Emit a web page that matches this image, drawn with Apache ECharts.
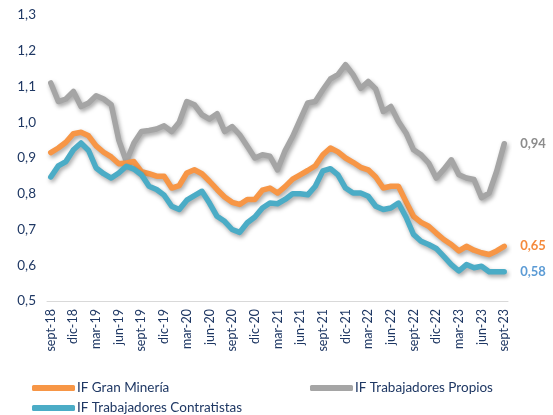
<!DOCTYPE html>
<html>
<head>
<meta charset="utf-8">
<script src="https://cdn.jsdelivr.net/npm/echarts@6/dist/echarts.min.js"></script>
<style>
  html, body { margin: 0; padding: 0; background: #fff; }
  #chart { width: 553px; height: 415px; }
</style>
</head>
<body>
<div id="chart"></div>
<script>
// meses sept-18 .. sept-23
var mesesAbrev = ['ene', 'feb', 'mar', 'abr', 'may', 'jun', 'jul', 'ago', 'sept', 'oct', 'nov', 'dic'];
var categorias = [];
for (var k = 0; k < 61; k++) {
    var m = (8 + k) % 12;
    var a = 18 + Math.floor((8 + k) / 12);
    categorias.push(mesesAbrev[m] + '-' + a);
}

var granMineria = [
    0.915, 0.928, 0.944, 0.968, 0.972, 0.962, 0.934, 0.916, 0.903, 0.884,
    0.886, 0.890, 0.862, 0.856, 0.849, 0.849, 0.816, 0.823, 0.858, 0.867,
    0.856, 0.835, 0.812, 0.791, 0.776, 0.770, 0.784, 0.784, 0.810, 0.816,
    0.802, 0.820, 0.841, 0.853, 0.865, 0.878, 0.909, 0.928, 0.917, 0.900,
    0.888, 0.874, 0.867, 0.847, 0.816, 0.821, 0.821, 0.778, 0.737, 0.720,
    0.709, 0.690, 0.672, 0.658, 0.640, 0.653, 0.642, 0.635, 0.630, 0.640,
    0.653
];

var trabPropios = [
    1.110, 1.058, 1.065, 1.086, 1.044, 1.054, 1.074, 1.065, 1.049, 0.950,
    0.890, 0.942, 0.974, 0.977, 0.981, 0.990, 0.974, 1.000, 1.058, 1.049,
    1.021, 1.009, 1.024, 0.974, 0.988, 0.965, 0.933, 0.900, 0.909, 0.905,
    0.867, 0.920, 0.960, 1.007, 1.054, 1.058, 1.091, 1.121, 1.133, 1.161,
    1.133, 1.095, 1.114, 1.093, 1.030, 1.044, 1.002, 0.970, 0.923, 0.909,
    0.886, 0.844, 0.868, 0.895, 0.853, 0.844, 0.840, 0.789, 0.802, 0.863,
    0.940
];

var trabContratistas = [
    0.847, 0.878, 0.890, 0.923, 0.942, 0.921, 0.872, 0.856, 0.844, 0.858,
    0.877, 0.869, 0.853, 0.821, 0.812, 0.796, 0.765, 0.756, 0.782, 0.795,
    0.807, 0.774, 0.737, 0.723, 0.700, 0.692, 0.719, 0.735, 0.760, 0.774,
    0.772, 0.784, 0.800, 0.800, 0.797, 0.821, 0.864, 0.870, 0.853, 0.816,
    0.802, 0.802, 0.793, 0.765, 0.756, 0.760, 0.774, 0.735, 0.686, 0.667,
    0.658, 0.647, 0.625, 0.602, 0.584, 0.602, 0.593, 0.597, 0.582, 0.582,
    0.582
];

var yTicks = { min: 0.5, max: 1.3, interval: 0.1 };

var azul = '#1F3864';
var fuente = 'Lato';

function coma(v, d) {
    return Number(v).toFixed(d).replace('.', ',');
}

var myChart = echarts.init(document.getElementById('chart'));

function serie(nombre, datos, color, colorEtiqueta, z) {
    return {
        name: nombre,
        type: 'line',
        data: datos,
        z: z,
        symbol: 'none',
        smooth: false,
        lineStyle: {
            color: color,
            width: 5.5,
            cap: 'round',
            join: 'round',
            shadowColor: 'rgba(0,0,0,0.35)',
            shadowBlur: 4,
            shadowOffsetX: 1.5,
            shadowOffsetY: 2.5
        },
        itemStyle: { color: color },
        endLabel: {
            show: true,
            distance: 16,
            formatter: function (p) { return coma(p.value, 2); },
            color: colorEtiqueta,
            fontFamily: fuente,
            fontWeight: 'bold',
            fontSize: 13
        },
        emphasis: { disabled: true }
    };
}

function leyenda(nombre, left, top) {
    return {
        data: [nombre],
        left: left,
        top: top,
        itemWidth: 43,
        itemHeight: 6,
        icon: 'roundRect',
        textStyle: { color: azul, fontSize: 13.5, fontFamily: fuente, padding: [0, 0, 0, -3] }
    };
}

var option = {
    animation: false,
    textStyle: { fontFamily: fuente },
    grid: { left: 47, right: 45, top: 15, bottom: 114 },
    legend: [
        leyenda('IF Gran Minería', 27, 376),
        leyenda('IF Trabajadores Propios', 305, 376),
        leyenda('IF Trabajadores Contratistas', 27, 396)
    ],
    xAxis: {
        type: 'category',
        data: categorias,
        boundaryGap: true,
        axisLine: { lineStyle: { color: '#D9D9D9', width: 1 } },
        axisTick: { interval: 2, length: 5, lineStyle: { color: '#D9D9D9' } },
        axisLabel: {
            interval: 2,
            rotate: 90,
            color: azul,
            fontSize: 12.5,
            fontFamily: fuente,
            margin: 8
        },
        splitLine: { show: false }
    },
    yAxis: {
        type: 'value',
        min: yTicks.min,
        max: yTicks.max,
        interval: yTicks.interval,
        axisLine: { show: false },
        axisTick: { show: false },
        splitLine: { show: false },
        axisLabel: {
            color: azul,
            fontSize: 13.5,
            fontFamily: fuente,
            margin: 11,
            formatter: function (v) { return coma(v, 1); }
        }
    },
    series: [
        serie('IF Gran Minería', granMineria, '#F79646', '#F58A3C', 3),
        serie('IF Trabajadores Propios', trabPropios, '#A5A5A5', '#8C8C8C', 2),
        serie('IF Trabajadores Contratistas', trabContratistas, '#4BACC6', '#5B9BD5', 4)
    ]
};

myChart.setOption(option);
</script>
</body>
</html>
